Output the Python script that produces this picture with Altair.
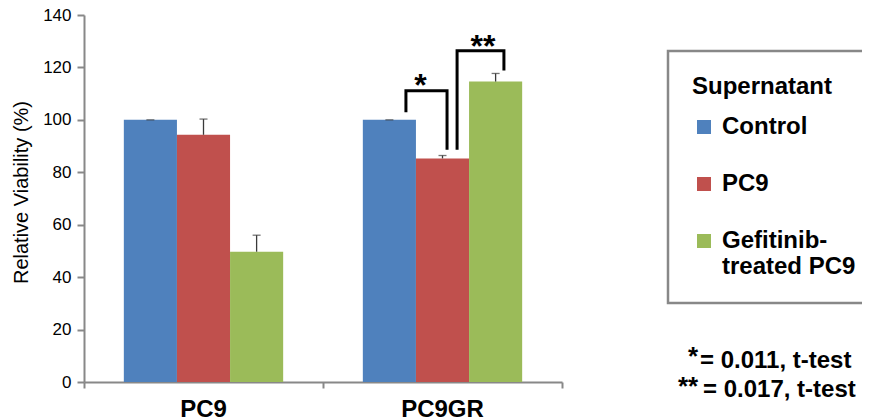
import altair as alt
import pandas as pd

# ---- data ----
groups = ["PC9", "PC9GR"]
series = ["Control", "PC9", "Gefitinib-treated PC9"]
control_vals = [100.0, 100.0]
pc9_vals = [94.3, 85.3]
gef_vals = [49.7, 114.6]
control_err = [0.0, 0.0]
pc9_err = [6.0, 1.1]
gef_err = [6.3, 3.1]
colors = ["#4F81BD", "#C0504D", "#9BBB59"]

# significance brackets (x in group units, y in %)
bracket1_x = [1.347, 1.347, 1.519, 1.519]
bracket1_y = [103.5, 111.1, 111.1, 89.2]
bracket2_x = [1.561, 1.561, 1.757, 1.757]
bracket2_y = [89.2, 126.4, 126.4, 119.4]
star_labels = ["*", "**"]
star_x = [1.408, 1.669]
star_y = [109.2, 124.0]

note_stars = ["*", "**"]
note_texts = ["= 0.011, t-test", "= 0.017, t-test"]

FONT = "Liberation Sans"

vals = [control_vals, pc9_vals, gef_vals]
errs = [control_err, pc9_err, gef_err]
bw = 1 / 4.5
pad = 0.75 * bw
rows = []
for i, g in enumerate(groups):
    for j, s in enumerate(series):
        x0 = i + pad + j * bw
        rows.append(dict(group=g, series=s, x0=x0, x1=x0 + bw, xc=x0 + bw / 2,
                         value=vals[j][i], zero=0.0, top=vals[j][i] + errs[j][i]))
bars_df = pd.DataFrame(rows)

br_rows = []
for k, (bx, by) in enumerate([(bracket1_x, bracket1_y), (bracket2_x, bracket2_y)]):
    for o, (xx, yy) in enumerate(zip(bx, by)):
        br_rows.append(dict(b=k, o=o, x=xx, y=yy))
br_df = pd.DataFrame(br_rows)
star_df = pd.DataFrame(dict(t=star_labels, x=star_x, y=star_y))
grp_df = pd.DataFrame(dict(g=groups, x=[i + 0.5 for i in range(len(groups))]))

x_scale = alt.Scale(domain=[0, 2], nice=False, zero=False)
y_scale = alt.Scale(domain=[0, 140], nice=False)
x_axis = alt.Axis(values=[0, 1, 2], labels=False, title=None, tickSize=6, grid=False)
y_axis = alt.Axis(values=list(range(0, 141, 20)), title="Relative Viability (%)",
                  tickSize=7, labelPadding=6, labelFontSize=17, labelFont=FONT,
                  labelColor="#000000", titleFontSize=20, titleFont=FONT,
                  titleFontWeight="normal", titleColor="#000000",
                  titleX=-53, titleY=177, grid=False)

bars = alt.Chart(bars_df).mark_rect().encode(
    x=alt.X("x0:Q", scale=x_scale, axis=x_axis),
    x2="x1:Q",
    y=alt.Y("value:Q", scale=y_scale, axis=y_axis),
    y2="zero:Q",
    color=alt.Color("series:N", scale=alt.Scale(domain=series, range=colors),
                    legend=alt.Legend(
                        orient="none", legendX=584, legendY=36,
                        title="Supernatant" + "\u00a0" * 20,
                        titleLimit=0,
                        titleFont=FONT, titleFontSize=24, titleFontWeight="bold",
                        titleColor="#000000", titlePadding=16,
                        labelFont=FONT, labelFontSize=24, labelFontWeight="bold",
                        labelColor="#000000", labelOffset=6, labelLimit=0,
                        labelExpr="datum.label == 'Gefitinib-treated PC9' ? ['Gefitinib-', 'treated PC9'] : datum.label",
                        symbolType="square", symbolSize=196, symbolStrokeWidth=0,
                        strokeColor="#888888", padding=24, rowPadding=33)),
)

err_rule = alt.Chart(bars_df).mark_rule(color="#3a3a3a", strokeWidth=1.3).encode(
    x=alt.X("xc:Q", scale=x_scale, axis=x_axis),
    y=alt.Y("value:Q", scale=y_scale, axis=y_axis),
    y2="top:Q",
)
err_cap = alt.Chart(bars_df).mark_tick(color="#3a3a3a", thickness=1.3, size=8,
                                        orient="horizontal").encode(
    x=alt.X("xc:Q", scale=x_scale, axis=x_axis),
    y=alt.Y("top:Q", scale=y_scale, axis=y_axis),
)

brackets = alt.Chart(br_df).mark_line(color="#000000", strokeWidth=3,
                                       strokeCap="square").encode(
    x=alt.X("x:Q", scale=x_scale, axis=x_axis),
    y=alt.Y("y:Q", scale=y_scale, axis=y_axis),
    detail="b:N",
    order="o:Q",
)
stars = alt.Chart(star_df).mark_text(font=FONT, fontSize=32, fontWeight="bold",
                                     color="#000000", baseline="alphabetic").encode(
    x=alt.X("x:Q", scale=x_scale, axis=x_axis),
    y=alt.Y("y:Q", scale=y_scale, axis=y_axis),
    text="t:N",
)
cats = alt.Chart(grp_df).mark_text(font=FONT, fontSize=24, fontWeight="bold",
                                   color="#000000", baseline="alphabetic").encode(
    x=alt.X("x:Q", scale=x_scale, axis=x_axis),
    y=alt.value(402),
    text="g:N",
)

notes = []
note_pos = [(609, 350, 616, 353), (604, 380, 619, 382)]
for k in range(2):
    sx, sy, tx, ty = note_pos[k]
    notes.append(alt.Chart(pd.DataFrame({"t": [note_stars[k]]})).mark_text(
        font=FONT, fontSize=26, fontWeight="bold", color="#000000",
        align="center", baseline="alphabetic").encode(
        x=alt.value(sx), y=alt.value(sy), text="t:N"))
    notes.append(alt.Chart(pd.DataFrame({"t": [note_texts[k]]})).mark_text(
        font=FONT, fontSize=24, fontWeight="bold", color="#000000",
        align="left", baseline="alphabetic").encode(
        x=alt.value(tx), y=alt.value(ty), text="t:N"))

chart = alt.layer(bars, err_rule, err_cap, brackets, stars, cats, *notes).properties(
    width=478, height=367,
    autosize=alt.AutoSizeParams(type="none"),
    padding={"left": 76, "top": 7, "right": 300, "bottom": 36},
).configure_view(stroke=None).configure_axis(
    domainColor="#888888", domainWidth=2, tickColor="#888888", tickWidth=2,
).configure_legend(strokeWidth=2.5)

chart.save("out.html", embed_options={"renderer": "svg", "actions": False})
